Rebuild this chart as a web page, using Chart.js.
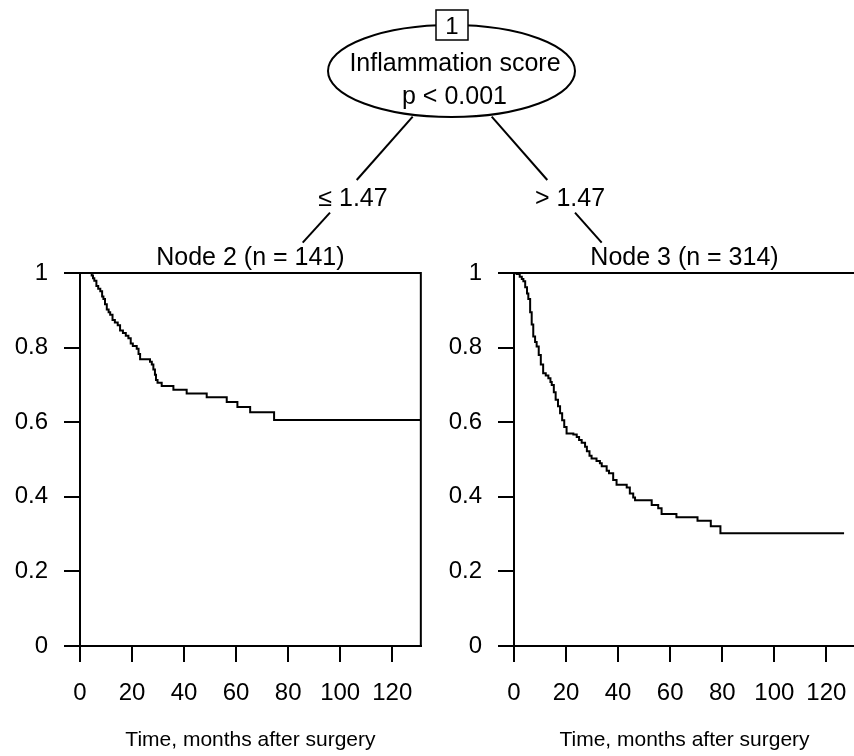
<!DOCTYPE html>
<html>
<head>
<meta charset="utf-8">
<script src="https://cdn.jsdelivr.net/npm/chart.js@4"></script>
<style>
  html, body { margin: 0; padding: 0; background: #fff; overflow: hidden; }
  #wrap { position: relative; width: 854px; height: 756px; overflow: hidden; }
  canvas { position: absolute; }
  #tree { position: absolute; left: 0; top: 0; z-index: 5; }
  #tree text { font-family: "Liberation Sans", Arial, Helvetica, sans-serif; fill: #000; }
</style>
</head>
<body>
<div id="wrap">
  <canvas id="c2" width="430" height="526" style="left:0px;top:230px;"></canvas>
  <canvas id="c3" width="440" height="526" style="left:434px;top:230px;"></canvas>
  <svg id="tree" width="854" height="250" xmlns="http://www.w3.org/2000/svg">
    <line x1="412.7" y1="116.7" x2="356.7" y2="180" stroke="#000" stroke-width="2"/>
    <line x1="330" y1="212.7" x2="302.7" y2="242.7" stroke="#000" stroke-width="2"/>
    <line x1="491.7" y1="116.7" x2="547.3" y2="180" stroke="#000" stroke-width="2"/>
    <line x1="575" y1="212.7" x2="601.7" y2="242.7" stroke="#000" stroke-width="2"/>
    <ellipse cx="451.5" cy="71" rx="123.5" ry="46" fill="#fff" stroke="#000" stroke-width="2"/>
    <rect x="436" y="10" width="32" height="30" fill="#fff" stroke="#000" stroke-width="1.5"/>
    <text x="452" y="25" font-size="24" text-anchor="middle" dominant-baseline="central">1</text>
    <text x="455" y="62" font-size="25" text-anchor="middle" dominant-baseline="central">Inflammation score</text>
    <text x="454.5" y="95" font-size="25" text-anchor="middle" dominant-baseline="central">p &lt; 0.001</text>
    <text x="353" y="197" font-size="25" text-anchor="middle" dominant-baseline="central">≤ 1.47</text>
    <text x="570" y="197" font-size="25" text-anchor="middle" dominant-baseline="central">&gt; 1.47</text>
  </svg>
</div>
<script>
// ---- Data ----
// Node 2 (Inflammation score <= 1.47), n = 141: Kaplan-Meier steps
const node2Time = [0, 4.5, 5, 5.5, 6.3, 7, 7.8, 8.5, 9, 9.6, 10.3, 11, 11.6, 12.5, 13.4, 14.5, 15.4, 16.5, 17.6, 18.6, 19.5, 20.3, 21.8, 22.5, 23.1, 26.9, 27.6, 28.2, 28.8, 29.2, 29.8, 31.4, 35.9, 41, 48.7, 56.4, 60.5, 65.4, 74.6, 131];
const node2Surv = [1, 0.993, 0.986, 0.979, 0.965, 0.958, 0.951, 0.937, 0.93, 0.916, 0.902, 0.895, 0.888, 0.874, 0.867, 0.86, 0.846, 0.839, 0.832, 0.825, 0.811, 0.804, 0.797, 0.783, 0.769, 0.762, 0.755, 0.741, 0.727, 0.713, 0.706, 0.697, 0.687, 0.677, 0.667, 0.654, 0.641, 0.627, 0.606, 0.606];

// Node 3 (Inflammation score > 1.47), n = 314: Kaplan-Meier steps
const node3Time = [0, 1, 2.2, 3, 3.6, 4.3, 5, 5.5, 6.2, 6.8, 7.4, 8.1, 8.7, 9.5, 10.3, 11.2, 12.2, 13.2, 14, 14.5, 15.3, 16, 16.9, 17.7, 18.5, 19.3, 20.2, 22.8, 24.1, 25, 26, 27.3, 28, 29, 29.8, 31.7, 33, 33.7, 35.6, 36.5, 38.1, 39.4, 43.3, 44.5, 45.8, 46.5, 52.9, 55.4, 56.7, 62.4, 70.5, 75.6, 79.3, 126.8];
const node3Surv = [1, 0.997, 0.99, 0.984, 0.978, 0.962, 0.945, 0.93, 0.895, 0.862, 0.83, 0.815, 0.803, 0.78, 0.755, 0.731, 0.725, 0.718, 0.708, 0.7, 0.68, 0.66, 0.643, 0.624, 0.605, 0.587, 0.57, 0.567, 0.56, 0.552, 0.545, 0.534, 0.522, 0.51, 0.503, 0.496, 0.49, 0.482, 0.47, 0.463, 0.445, 0.432, 0.425, 0.409, 0.398, 0.391, 0.378, 0.369, 0.354, 0.345, 0.336, 0.321, 0.302, 0.302];

const xTickValues = [0, 20, 40, 60, 80, 100, 120];
const yTickValues = [0, 0.2, 0.4, 0.6, 0.8, 1];
const yTickLabels = ['0', '0.2', '0.4', '0.6', '0.8', '1'];
const xAxisTitle = 'Time, months after surgery';
const node2Title = 'Node 2 (n = 141)';
const node3Title = 'Node 3 (n = 314)';
const xMax = 131;

const FONT = '"Liberation Sans", Arial, Helvetica, sans-serif';

const boxPlugin = {
  id: 'boxPlugin',
  afterDraw(chart) {
    const {ctx, chartArea: a} = chart;
    ctx.save();
    ctx.strokeStyle = '#000';
    ctx.lineWidth = 2;
    ctx.beginPath();
    ctx.moveTo(a.left, a.top);
    ctx.lineTo(a.right, a.top);
    ctx.lineTo(a.right, a.bottom);
    ctx.stroke();
    ctx.restore();
  }
};

function makePanel(id, title, times, surv, padRight) {
  const pts = times.map((t, i) => ({x: t, y: surv[i]}));
  return new Chart(document.getElementById(id), {
    type: 'line',
    data: {
      datasets: [{
        data: pts,
        borderColor: '#000',
        borderWidth: 2,
        pointRadius: 0,
        stepped: 'before',
        fill: false,
        tension: 0
      }]
    },
    options: {
      responsive: false,
      animation: false,
      devicePixelRatio: 1,
      layout: { padding: {top: 0, left: 0, right: padRight, bottom: 0}, autoPadding: false },
      plugins: {
        legend: { display: false },
        tooltip: { enabled: false },
        title: {
          display: true,
          text: title,
          color: '#000',
          fullSize: false,
          font: { family: FONT, size: 25, weight: 'normal' },
          padding: { top: 13, bottom: 0 }
        }
      },
      scales: {
        x: {
          type: 'linear',
          min: 0,
          max: xMax,
          afterFit(scale) { scale.height = 110; },
          afterBuildTicks(scale) { scale.ticks = xTickValues.map(v => ({value: v})); },
          grid: { display: true, drawOnChartArea: false, drawTicks: true, tickLength: 16, color: '#000', lineWidth: 2 },
          border: { display: true, color: '#000', width: 2 },
          ticks: {
            color: '#000',
            padding: 17,
            maxRotation: 0,
            autoSkip: false,
            font: { family: FONT, size: 24 },
            callback: (v) => String(v)
          },
          title: {
            display: true,
            text: xAxisTitle,
            color: '#000',
            font: { family: FONT, size: 21 },
            padding: { top: 0, bottom: 3 }
          }
        },
        y: {
          type: 'linear',
          min: 0,
          max: 1,
          afterFit(scale) { scale.width = 80; },
          afterBuildTicks(scale) { scale.ticks = yTickValues.map(v => ({value: v})); },
          grid: { display: true, drawOnChartArea: false, drawTicks: true, tickLength: 16, color: '#000', lineWidth: 2 },
          border: { display: true, color: '#000', width: 2 },
          ticks: {
            color: '#000',
            padding: 16,
            autoSkip: false,
            font: { family: FONT, size: 24 },
            callback: (v) => yTickLabels[yTickValues.indexOf(v)] ?? String(v)
          }
        }
      }
    },
    plugins: [boxPlugin]
  });
}

makePanel('c2', node2Title, node2Time, node2Surv, 9);
makePanel('c3', node3Title, node3Time, node3Surv, 19);
</script>
</body>
</html>
